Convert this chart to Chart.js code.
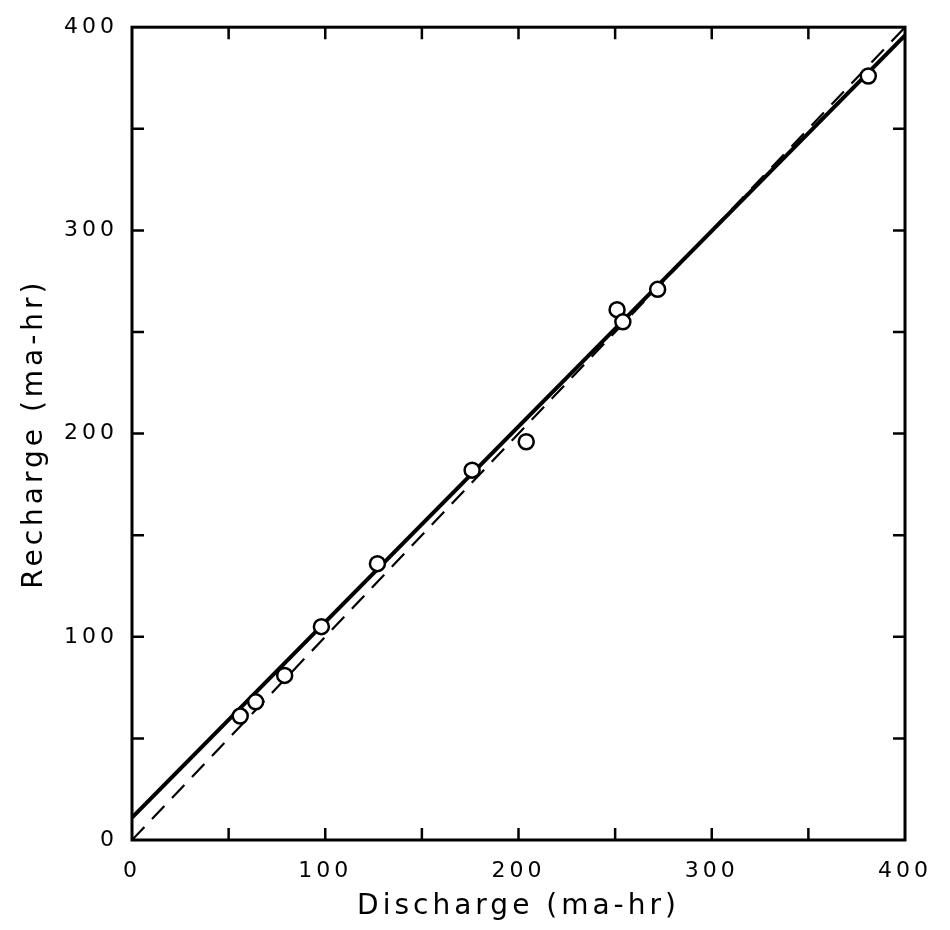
<!DOCTYPE html>
<html>
<head>
<meta charset="utf-8">
<script src="https://cdn.jsdelivr.net/npm/chart.js@4"></script>
<style>
  html, body { margin: 0; padding: 0; background: #fff; }
  #wrap { width: 950px; height: 930px; }
</style>
</head>
<body>
<div id="wrap"><canvas id="chart-recharge"></canvas></div>
<script>
// measured points (discharge vs recharge, ma-hr)
const dischargeValues = [56, 64, 79, 98, 127, 176, 204, 251, 254, 272, 381];
const rechargeValues = [61, 68, 81, 105, 136, 182, 196, 261, 255, 271, 376];

// fitted line (solid) and 1:1 line (dashed)
const fitX = [0, 400];
const fitY = [11, 396];
const equalX = [0, 400];
const equalY = [0, 400];

const axisTicks = [0, 50, 100, 150, 200, 250, 300, 350, 400];

const toPoints = (xs, ys) => xs.map((x, i) => ({ x: x, y: ys[i] }));

// wide lettering like the original typeface
const spacing = {
    id: 'spacing',
    beforeUpdate(chart) { chart.ctx.letterSpacing = '4px'; },
    beforeDraw(chart) { chart.ctx.letterSpacing = '4px'; }
};

// frame and inward tick marks on all four sides
const frameTicks = {
    id: 'frameTicks',
    afterDatasetsDraw(chart) {
        const { ctx, chartArea: a, scales } = chart;
        ctx.save();
        ctx.strokeStyle = '#000';
        ctx.lineWidth = 3;
        ctx.strokeRect(a.left, a.top, a.right - a.left, a.bottom - a.top);
        ctx.lineWidth = 2.5;
        const len = 12;
        axisTicks.forEach(v => {
            if (v === 0 || v === 400) return;
            const px = scales.x.getPixelForValue(v);
            const py = scales.y.getPixelForValue(v);
            ctx.beginPath();
            ctx.moveTo(px, a.bottom); ctx.lineTo(px, a.bottom - len);
            ctx.moveTo(px, a.top); ctx.lineTo(px, a.top + len);
            ctx.moveTo(a.left, py); ctx.lineTo(a.left + len, py);
            ctx.moveTo(a.right, py); ctx.lineTo(a.right - len, py);
            ctx.stroke();
        });
        ctx.restore();
    }
};

const dataRecharge = {
    datasets: [
        {
            label: 'Fit',
            data: toPoints(fitX, fitY),
            showLine: true,
            borderColor: '#000',
            borderWidth: 4,
            pointRadius: 0,
            order: 2
        },
        {
            label: 'Recharge = Discharge',
            data: toPoints(equalX, equalY),
            showLine: true,
            borderColor: '#000',
            borderWidth: 2.2,
            borderDash: [18, 11],
            pointRadius: 0,
            order: 3
        },
        {
            label: 'Measured',
            data: toPoints(dischargeValues, rechargeValues),
            pointRadius: 7.5,
            pointBackgroundColor: '#fff',
            pointBorderColor: '#000',
            pointBorderWidth: 2.5,
            order: 1
        }
    ]
};

const labelFont = { family: 'DejaVu Sans', size: 22 };
const titleFont = { family: 'DejaVu Sans', size: 28 };

const configRecharge = {
    type: 'scatter',
    data: dataRecharge,
    options: {
        responsive: true,
        maintainAspectRatio: false,
        animation: false,
        layout: {
            padding: { top: 0, right: 10, bottom: 6, left: 0 }
        },
        plugins: {
            legend: { display: false },
            tooltip: { enabled: false }
        },
        scales: {
            x: {
                type: 'linear',
                min: 0,
                max: 400,
                afterFit: s => { s.height = 84; },
                grid: { display: false, drawTicks: false },
                border: { display: false },
                ticks: {
                    stepSize: 50,
                    color: '#000',
                    font: labelFont,
                    padding: 18,
                    maxRotation: 0,
                    callback: v => (v % 100 === 0 ? v : '')
                },
                title: {
                    display: true,
                    text: 'Discharge (ma-hr)',
                    color: '#000',
                    font: titleFont,
                    padding: { top: 2, bottom: 0 }
                }
            },
            y: {
                type: 'linear',
                min: 0,
                max: 400,
                afterFit: s => { s.width = 132; },
                grid: { display: false, drawTicks: false },
                border: { display: false },
                ticks: {
                    stepSize: 50,
                    color: '#000',
                    font: labelFont,
                    padding: 14,
                    callback: v => (v % 100 === 0 ? v : '')
                },
                title: {
                    display: true,
                    text: 'Recharge (ma-hr)',
                    color: '#000',
                    font: titleFont,
                    padding: { top: 18, bottom: 0 }
                }
            }
        }
    },
    plugins: [spacing, frameTicks]
};

const myChartRecharge = new Chart(
    document.getElementById('chart-recharge'),
    configRecharge
);
</script>
</body>
</html>
